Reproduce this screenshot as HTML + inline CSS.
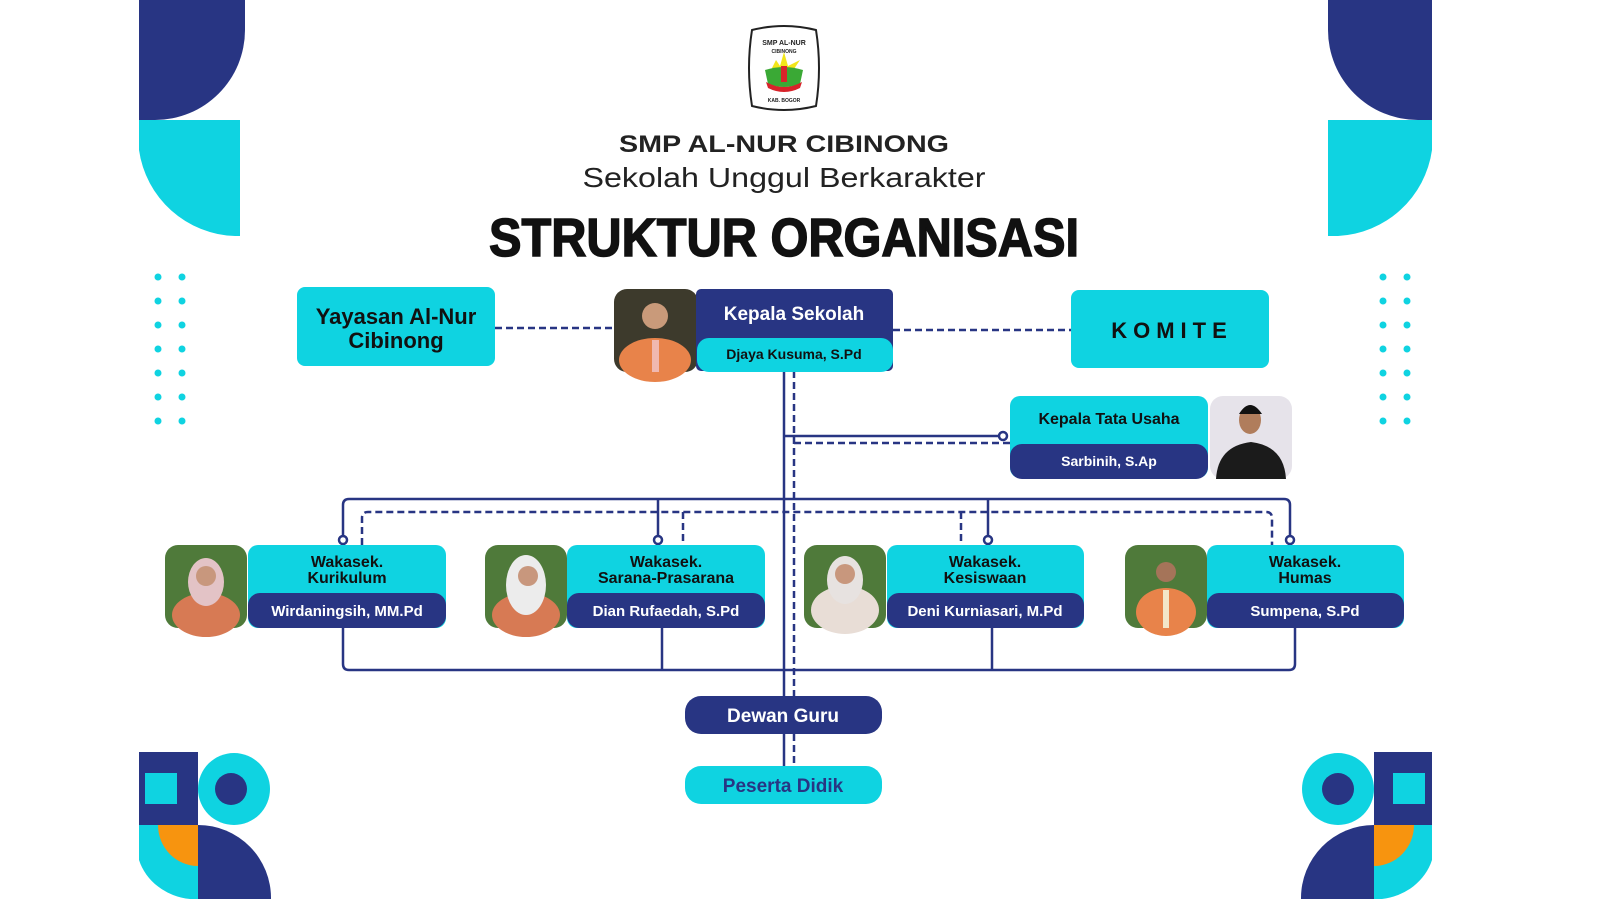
<!DOCTYPE html>
<html><head><meta charset="utf-8"><style>
html,body{margin:0;padding:0;background:#fff;width:1599px;height:899px;overflow:hidden;}
svg{display:block;}
text{font-family:"Liberation Sans",sans-serif;font-weight:bold;}
</style></head><body>
<svg width="1599" height="899" viewBox="0 0 1599 899" xmlns="http://www.w3.org/2000/svg">
<rect width="1599" height="899" fill="#fff"/>

<!-- top-left deco -->
<path d="M139 0 H245 V30 A90 90 0 0 1 155 120 H139 Z" fill="#283583"/>
<path d="M139 120 H240 V236 H235 A100 100 0 0 1 139 150 Z" fill="#0fd3e1"/>
<!-- top-right deco (mirror) -->
<path d="M1432 0 H1328 V30 A90 90 0 0 0 1418 120 H1432 Z" fill="#283583"/>
<path d="M1432 120 H1328 V236 H1338 A100 100 0 0 0 1432 150 Z" fill="#0fd3e1"/>

<!-- dots -->
<g fill="#0fd3e1">
<circle cx="158" cy="277" r="3.5"/><circle cx="182" cy="277" r="3.5"/>
<circle cx="158" cy="301" r="3.5"/><circle cx="182" cy="301" r="3.5"/>
<circle cx="158" cy="325" r="3.5"/><circle cx="182" cy="325" r="3.5"/>
<circle cx="158" cy="349" r="3.5"/><circle cx="182" cy="349" r="3.5"/>
<circle cx="158" cy="373" r="3.5"/><circle cx="182" cy="373" r="3.5"/>
<circle cx="158" cy="397" r="3.5"/><circle cx="182" cy="397" r="3.5"/>
<circle cx="158" cy="421" r="3.5"/><circle cx="182" cy="421" r="3.5"/>
<circle cx="1383" cy="277" r="3.5"/><circle cx="1407" cy="277" r="3.5"/>
<circle cx="1383" cy="301" r="3.5"/><circle cx="1407" cy="301" r="3.5"/>
<circle cx="1383" cy="325" r="3.5"/><circle cx="1407" cy="325" r="3.5"/>
<circle cx="1383" cy="349" r="3.5"/><circle cx="1407" cy="349" r="3.5"/>
<circle cx="1383" cy="373" r="3.5"/><circle cx="1407" cy="373" r="3.5"/>
<circle cx="1383" cy="397" r="3.5"/><circle cx="1407" cy="397" r="3.5"/>
<circle cx="1383" cy="421" r="3.5"/><circle cx="1407" cy="421" r="3.5"/>
</g>

<!-- bottom-left deco -->
<rect x="139" y="752" width="59" height="73" fill="#283583"/>
<rect x="145" y="773" width="32" height="31" fill="#0fd3e1"/>
<circle cx="234" cy="789" r="36" fill="#0fd3e1"/>
<circle cx="231" cy="789" r="16" fill="#283583"/>
<path d="M139 825 H198 V899 H190 A60 55 0 0 1 139 860 Z" fill="#0fd3e1"/>
<path d="M158 825 H198 V866 A40 41 0 0 1 158 825 Z" fill="#f7940f"/>
<path d="M198 825 A73 73 0 0 1 271 899 H198 Z" fill="#283583"/>
<!-- bottom-right deco -->
<rect x="1374" y="752" width="58" height="73" fill="#283583"/>
<rect x="1393" y="773" width="32" height="31" fill="#0fd3e1"/>
<circle cx="1338" cy="789" r="36" fill="#0fd3e1"/>
<circle cx="1338" cy="789" r="16" fill="#283583"/>
<path d="M1432 825 H1374 V899 H1382 A60 55 0 0 0 1432 860 Z" fill="#0fd3e1"/>
<path d="M1414 825 H1374 V866 A40 41 0 0 0 1414 825 Z" fill="#f7940f"/>
<path d="M1374 825 A73 73 0 0 0 1301 899 H1374 Z" fill="#283583"/>

<!-- logo -->
<path d="M752 30 Q784 22 816 30 Q822 68 816 106 Q784 114 752 106 Q746 68 752 30 Z" fill="#fff" stroke="#222" stroke-width="2"/>
<text x="784" y="45" font-size="7" text-anchor="middle" fill="#222">SMP AL-NUR</text>
<text x="784" y="53" font-size="5" text-anchor="middle" fill="#222">CIBINONG</text>
<polygon points="784,52 788,66 800,60 792,72 770,72 776,60 780,66" fill="#f2e61a"/>
<path d="M765 70 Q784 64 803 70 L800 84 Q784 90 768 84 Z" fill="#3aa935"/>
<rect x="781" y="66" width="6" height="16" fill="#d8232a"/>
<path d="M766 82 Q784 92 802 82 L800 88 Q784 96 768 88 Z" fill="#d8232a"/>
<text x="784" y="102" font-size="5" text-anchor="middle" fill="#222">KAB. BOGOR</text>

<!-- titles -->
<text x="784" y="152" font-size="24" text-anchor="middle" fill="#222" textLength="330" lengthAdjust="spacingAndGlyphs">SMP AL-NUR CIBINONG</text>
<text x="784" y="187" font-size="28" text-anchor="middle" fill="#222" style="font-weight:normal" textLength="403" lengthAdjust="spacingAndGlyphs">Sekolah Unggul Berkarakter</text>
<text x="784" y="256" font-size="54" text-anchor="middle" fill="#111" stroke="#111" stroke-width="1.5" textLength="590" lengthAdjust="spacingAndGlyphs">STRUKTUR ORGANISASI</text>

<!-- connectors -->
<g stroke="#283583" stroke-width="2.5" fill="none">
<line x1="495" y1="328" x2="614" y2="328" stroke-dasharray="7,4"/>
<line x1="893" y1="330" x2="1071" y2="330" stroke-dasharray="7,4"/>
<line x1="784" y1="371" x2="784" y2="766"/>
<line x1="794" y1="371" x2="794" y2="766" stroke-dasharray="7,4"/>
<line x1="784" y1="436" x2="999" y2="436"/>
<line x1="794" y1="443" x2="1010" y2="443" stroke-dasharray="7,4"/>
<path d="M343 536 V505 Q343 499 349 499 H1284 Q1290 499 1290 505 V536"/>
<line x1="658" y1="499" x2="658" y2="536"/>
<line x1="988" y1="499" x2="988" y2="536"/>
<path d="M362 545 V518 Q362 512 368 512 H1266 Q1272 512 1272 518 V545" stroke-dasharray="7,4"/>
<line x1="683" y1="512" x2="683" y2="545" stroke-dasharray="7,4"/>
<line x1="961" y1="512" x2="961" y2="545" stroke-dasharray="7,4"/>
<path d="M343 628 V664 Q343 670 349 670 H1289 Q1295 670 1295 664 V628"/>
<line x1="662" y1="628" x2="662" y2="670"/>
<line x1="992" y1="628" x2="992" y2="670"/>
</g>
<g fill="#fff" stroke="#283583" stroke-width="2.5">
<circle cx="1003" cy="436" r="4"/>
<circle cx="343" cy="540" r="4"/><circle cx="658" cy="540" r="4"/>
<circle cx="988" cy="540" r="4"/><circle cx="1290" cy="540" r="4"/>
</g>

<!-- Yayasan -->
<rect x="297" y="287" width="198" height="79" rx="8" fill="#0fd3e1"/>
<text x="396" y="324" font-size="22" text-anchor="middle" fill="#111">Yayasan Al-Nur</text>
<text x="396" y="348" font-size="22" text-anchor="middle" fill="#111">Cibinong</text>

<!-- KOMITE -->
<rect x="1071" y="290" width="198" height="78" rx="8" fill="#0fd3e1"/>
<text x="1172" y="338" font-size="22" text-anchor="middle" fill="#111" letter-spacing="6">KOMITE</text>

<!-- Kepala Sekolah -->
<rect x="614" y="289" width="84" height="83" rx="13" fill="#3d3a2c"/>
<ellipse cx="655" cy="360" rx="36" ry="22" fill="#e8834a"/>
<rect x="652" y="340" width="7" height="32" fill="#f0b8b0"/>
<circle cx="655" cy="316" r="13" fill="#c99a7a"/>
<rect x="696" y="289" width="197" height="82" rx="5" fill="#283583"/>
<text x="794" y="320" font-size="19" text-anchor="middle" fill="#fff">Kepala Sekolah</text>
<rect x="697" y="338" width="196" height="34" rx="12" fill="#0fd3e1"/>
<text x="794" y="359" font-size="14" text-anchor="middle" fill="#111">Djaya Kusuma, S.Pd</text>

<!-- Kepala TU -->
<rect x="1010" y="396" width="198" height="82" rx="10" fill="#0fd3e1"/>
<text x="1109" y="424" font-size="16" text-anchor="middle" fill="#111">Kepala Tata Usaha</text>
<rect x="1010" y="444" width="198" height="35" rx="12" fill="#283583"/>
<text x="1109" y="466" font-size="14" text-anchor="middle" fill="#fff">Sarbinih, S.Ap</text>
<rect x="1210" y="396" width="82" height="83" rx="13" fill="#e6e3ea"/>
<path d="M1216 479 Q1218 446 1251 442 Q1284 446 1286 479 Z" fill="#1b1b1b"/>
<ellipse cx="1250" cy="420" rx="11" ry="14" fill="#b07d5c"/>
<path d="M1239 414 Q1250 396 1262 414 Z" fill="#111"/>

<!-- Wakasek boxes -->
<g>
<rect x="165" y="545" width="82" height="83" rx="13" fill="#4f7a3a"/>
<ellipse cx="206" cy="615" rx="34" ry="22" fill="#d77a54"/>
<ellipse cx="206" cy="582" rx="18" ry="24" fill="#e3c3c6"/>
<circle cx="206" cy="576" r="10" fill="#c8977d"/>
<rect x="248" y="545" width="198" height="83" rx="10" fill="#0fd3e1"/>
<text x="347" y="567" font-size="16" text-anchor="middle" fill="#111">Wakasek.</text>
<text x="347" y="583" font-size="16" text-anchor="middle" fill="#111">Kurikulum</text>
<rect x="248" y="593" width="198" height="35" rx="12" fill="#283583"/>
<text x="347" y="616" font-size="15" text-anchor="middle" fill="#fff">Wirdaningsih, MM.Pd</text>
</g>
<g>
<rect x="485" y="545" width="82" height="83" rx="13" fill="#4f7a3a"/>
<ellipse cx="526" cy="615" rx="34" ry="22" fill="#d77a54"/>
<ellipse cx="526" cy="585" rx="20" ry="30" fill="#ececec"/>
<circle cx="528" cy="576" r="10" fill="#c8977d"/>
<rect x="567" y="545" width="198" height="83" rx="10" fill="#0fd3e1"/>
<text x="666" y="567" font-size="16" text-anchor="middle" fill="#111">Wakasek.</text>
<text x="666" y="583" font-size="16" text-anchor="middle" fill="#111">Sarana-Prasarana</text>
<rect x="567" y="593" width="198" height="35" rx="12" fill="#283583"/>
<text x="666" y="616" font-size="15" text-anchor="middle" fill="#fff">Dian Rufaedah, S.Pd</text>
</g>
<g>
<rect x="804" y="545" width="82" height="83" rx="13" fill="#4f7a3a"/>
<ellipse cx="845" cy="610" rx="34" ry="24" fill="#e8ddd6"/>
<ellipse cx="845" cy="580" rx="18" ry="24" fill="#e7e2e0"/>
<circle cx="845" cy="574" r="10" fill="#c8977d"/>
<rect x="887" y="545" width="197" height="83" rx="10" fill="#0fd3e1"/>
<text x="985" y="567" font-size="16" text-anchor="middle" fill="#111">Wakasek.</text>
<text x="985" y="583" font-size="16" text-anchor="middle" fill="#111">Kesiswaan</text>
<rect x="887" y="593" width="197" height="35" rx="12" fill="#283583"/>
<text x="985" y="616" font-size="15" text-anchor="middle" fill="#fff">Deni Kurniasari, M.Pd</text>
</g>
<g>
<rect x="1125" y="545" width="82" height="83" rx="13" fill="#4f7a3a"/>
<ellipse cx="1166" cy="612" rx="30" ry="24" fill="#e8834a"/>
<rect x="1163" y="590" width="6" height="38" fill="#f3e6c8"/>
<circle cx="1166" cy="572" r="10" fill="#a57459"/>
<rect x="1207" y="545" width="197" height="83" rx="10" fill="#0fd3e1"/>
<text x="1305" y="567" font-size="16" text-anchor="middle" fill="#111">Wakasek.</text>
<text x="1305" y="583" font-size="16" text-anchor="middle" fill="#111">Humas</text>
<rect x="1207" y="593" width="197" height="35" rx="12" fill="#283583"/>
<text x="1305" y="616" font-size="15" text-anchor="middle" fill="#fff">Sumpena, S.Pd</text>
</g>

<!-- Dewan Guru / Peserta Didik -->
<rect x="685" y="696" width="197" height="38" rx="16" fill="#283583"/>
<text x="783" y="722" font-size="19" text-anchor="middle" fill="#fff">Dewan Guru</text>
<rect x="685" y="766" width="197" height="38" rx="16" fill="#0fd3e1"/>
<text x="783" y="792" font-size="19" text-anchor="middle" fill="#283583">Peserta Didik</text>
</svg>
</body></html>
